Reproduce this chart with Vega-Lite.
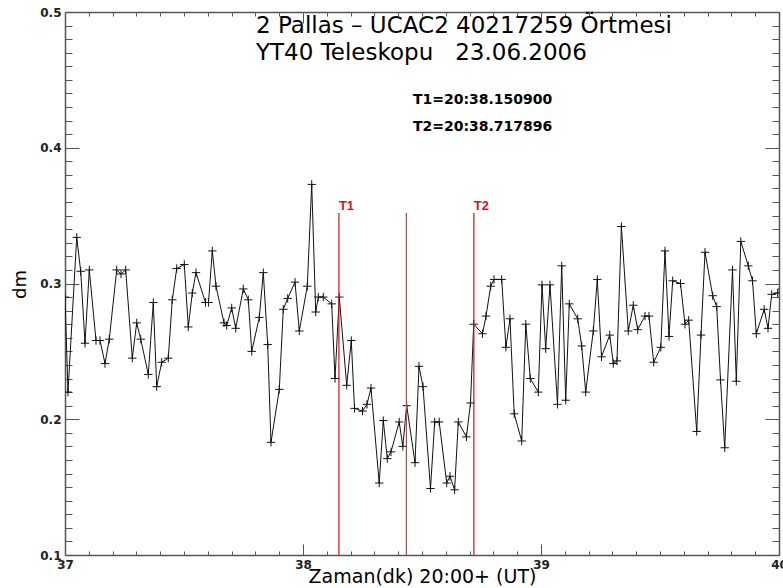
{
  "$schema": "https://vega.github.io/schema/vega-lite/v6.json",
  "width": 714,
  "height": 543,
  "autosize": {"type": "none"},
  "padding": {"left": 65, "top": 12, "right": 4, "bottom": 33},
  "background": "white",
  "title": {
    "text": ["2 Pallas – UCAC2 40217259 Örtmesi", "YT40 Teleskopu\u00a0\u00a0 23.06.2006"],
    "anchor": "start",
    "frame": "group",
    "orient": "top",
    "font": "DejaVu Sans",
    "fontSize": 23,
    "fontWeight": "normal",
    "color": "#000000",
    "lineHeight": 27,
    "baseline": "alphabetic",
    "offset": 0,
    "dx": 191,
    "dy": 77
  },
  "config": {
    "view": {"stroke": null},
    "axis": {
      "grid": false,
      "labelFont": "DejaVu Sans",
      "labelFontWeight": "bold",
      "labelFontSize": 12,
      "labelColor": "#222222",
      "labelFlush": false,
      "domainColor": "#555555",
      "domainWidth": 1.5,
      "tickColor": "#555555",
      "tickWidth": 1,
      "titleFont": "DejaVu Sans",
      "titleFontWeight": "normal",
      "titleFontSize": 18,
      "titleColor": "#000000"
    }
  },
  "datasets": {
    "obs": [
      {"t": 37.0000, "dm": 0.290}, {"t": 37.0126, "dm": 0.220}, {"t": 37.0492, "dm": 0.334}, {"t": 37.0660, "dm": 0.309},
      {"t": 37.0840, "dm": 0.256}, {"t": 37.1021, "dm": 0.310}, {"t": 37.1303, "dm": 0.258}, {"t": 37.1471, "dm": 0.258},
      {"t": 37.1681, "dm": 0.241}, {"t": 37.1861, "dm": 0.259}, {"t": 37.2172, "dm": 0.310}, {"t": 37.2353, "dm": 0.307},
      {"t": 37.2550, "dm": 0.310}, {"t": 37.2828, "dm": 0.245}, {"t": 37.3013, "dm": 0.271}, {"t": 37.3181, "dm": 0.259},
      {"t": 37.3500, "dm": 0.233}, {"t": 37.3710, "dm": 0.286}, {"t": 37.3853, "dm": 0.224}, {"t": 37.4063, "dm": 0.242},
      {"t": 37.4340, "dm": 0.245}, {"t": 37.4508, "dm": 0.288}, {"t": 37.4693, "dm": 0.311}, {"t": 37.5013, "dm": 0.314},
      {"t": 37.5181, "dm": 0.268}, {"t": 37.5349, "dm": 0.293}, {"t": 37.5504, "dm": 0.308}, {"t": 37.5903, "dm": 0.286},
      {"t": 37.6029, "dm": 0.286}, {"t": 37.6189, "dm": 0.324}, {"t": 37.6345, "dm": 0.298}, {"t": 37.6681, "dm": 0.271},
      {"t": 37.6794, "dm": 0.269}, {"t": 37.7004, "dm": 0.282}, {"t": 37.7172, "dm": 0.267}, {"t": 37.7492, "dm": 0.296},
      {"t": 37.7702, "dm": 0.288}, {"t": 37.7845, "dm": 0.250}, {"t": 37.8164, "dm": 0.275}, {"t": 37.8332, "dm": 0.308},
      {"t": 37.8517, "dm": 0.255}, {"t": 37.8655, "dm": 0.183}, {"t": 37.9004, "dm": 0.222}, {"t": 37.9172, "dm": 0.281},
      {"t": 37.9357, "dm": 0.289}, {"t": 37.9664, "dm": 0.301}, {"t": 37.9845, "dm": 0.265}, {"t": 38.0181, "dm": 0.298},
      {"t": 38.0366, "dm": 0.373}, {"t": 38.0534, "dm": 0.279}, {"t": 38.0643, "dm": 0.290}, {"t": 38.0853, "dm": 0.290},
      {"t": 38.1206, "dm": 0.285}, {"t": 38.1345, "dm": 0.230}, {"t": 38.1525, "dm": 0.290}, {"t": 38.1836, "dm": 0.225},
      {"t": 38.2029, "dm": 0.258}, {"t": 38.2164, "dm": 0.208}, {"t": 38.2500, "dm": 0.206}, {"t": 38.2689, "dm": 0.211},
      {"t": 38.2857, "dm": 0.223}, {"t": 38.3202, "dm": 0.153}, {"t": 38.3374, "dm": 0.199}, {"t": 38.3542, "dm": 0.171},
      {"t": 38.3697, "dm": 0.176}, {"t": 38.4042, "dm": 0.198}, {"t": 38.4193, "dm": 0.180}, {"t": 38.4357, "dm": 0.210},
      {"t": 38.4706, "dm": 0.168}, {"t": 38.4874, "dm": 0.239}, {"t": 38.5042, "dm": 0.224}, {"t": 38.5357, "dm": 0.149},
      {"t": 38.5534, "dm": 0.198}, {"t": 38.5723, "dm": 0.198}, {"t": 38.6038, "dm": 0.153}, {"t": 38.6176, "dm": 0.158},
      {"t": 38.6370, "dm": 0.148}, {"t": 38.6525, "dm": 0.198}, {"t": 38.6866, "dm": 0.187}, {"t": 38.7038, "dm": 0.212},
      {"t": 38.7172, "dm": 0.270}, {"t": 38.7542, "dm": 0.263}, {"t": 38.7689, "dm": 0.276}, {"t": 38.7887, "dm": 0.298},
      {"t": 38.8025, "dm": 0.303}, {"t": 38.8349, "dm": 0.303}, {"t": 38.8525, "dm": 0.253}, {"t": 38.8697, "dm": 0.274},
      {"t": 38.8874, "dm": 0.204}, {"t": 38.9189, "dm": 0.184}, {"t": 38.9361, "dm": 0.270}, {"t": 38.9550, "dm": 0.230},
      {"t": 38.9887, "dm": 0.220}, {"t": 39.0042, "dm": 0.299}, {"t": 39.0197, "dm": 0.252}, {"t": 39.0378, "dm": 0.299},
      {"t": 39.0693, "dm": 0.211}, {"t": 39.0870, "dm": 0.313}, {"t": 39.1038, "dm": 0.214}, {"t": 39.1189, "dm": 0.285},
      {"t": 39.1542, "dm": 0.274}, {"t": 39.1710, "dm": 0.254}, {"t": 39.1878, "dm": 0.220}, {"t": 39.2197, "dm": 0.265},
      {"t": 39.2366, "dm": 0.303}, {"t": 39.2542, "dm": 0.246}, {"t": 39.2887, "dm": 0.262}, {"t": 39.3038, "dm": 0.241},
      {"t": 39.3193, "dm": 0.243}, {"t": 39.3378, "dm": 0.342}, {"t": 39.3668, "dm": 0.265}, {"t": 39.3878, "dm": 0.284},
      {"t": 39.4063, "dm": 0.266}, {"t": 39.4370, "dm": 0.276}, {"t": 39.4538, "dm": 0.276}, {"t": 39.4735, "dm": 0.242},
      {"t": 39.5034, "dm": 0.253}, {"t": 39.5210, "dm": 0.324}, {"t": 39.5378, "dm": 0.261}, {"t": 39.5534, "dm": 0.302},
      {"t": 39.5861, "dm": 0.300}, {"t": 39.6050, "dm": 0.270}, {"t": 39.6206, "dm": 0.273}, {"t": 39.6542, "dm": 0.191},
      {"t": 39.6723, "dm": 0.262}, {"t": 39.6891, "dm": 0.323}, {"t": 39.7214, "dm": 0.291}, {"t": 39.7382, "dm": 0.283},
      {"t": 39.7542, "dm": 0.229}, {"t": 39.7718, "dm": 0.179}, {"t": 39.8046, "dm": 0.310}, {"t": 39.8206, "dm": 0.228},
      {"t": 39.8395, "dm": 0.331}, {"t": 39.8710, "dm": 0.313}, {"t": 39.8887, "dm": 0.302}, {"t": 39.9046, "dm": 0.263},
      {"t": 39.9378, "dm": 0.281}, {"t": 39.9538, "dm": 0.267}, {"t": 39.9693, "dm": 0.292}, {"t": 39.9945, "dm": 0.293},
      {"t": 40.0126, "dm": 0.296}
    ],
    "times": [
      {"t": 38.150900, "kind": "T1", "label": "T1"},
      {"t": 38.434398, "kind": "mid", "label": ""},
      {"t": 38.717896, "kind": "T2", "label": "T2"}
    ]
  },
  "layer": [
    {
      "data": {"name": "obs"},
      "mark": {"type": "line", "color": "#111111", "strokeWidth": 1, "clip": true},
      "encoding": {
        "x": {
          "field": "t", "type": "quantitative",
          "scale": {"domain": [37, 40], "nice": false, "zero": false},
          "axis": {
            "orient": "bottom", "values": [37, 38, 39, 40], "format": "d",
            "tickSize": -11, "labelPadding": 15, "labelFontSize": 12, "labelBaseline": "top",
            "labelFlush": false,
            "title": "Zaman(dk) 20:00+  (UT)", "titleFontSize": 19, "titleY": 27, "titleBaseline": "alphabetic"
          }
        },
        "y": {
          "field": "dm", "type": "quantitative",
          "scale": {"domain": [0.1, 0.5], "nice": false, "zero": false},
          "axis": {
            "orient": "left", "values": [0.1, 0.2, 0.3, 0.4, 0.5], "format": ".1f",
            "tickSize": -14, "labelPadding": 18, "labelFontSize": 12, "labelFlush": false,
            "title": "dm", "titleX": -45, "titleY": 272, "titleAngle": -90,
            "titleAlign": "center", "titleBaseline": "middle"
          }
        }
      }
    },
    {
      "data": {"name": "obs"},
      "mark": {
        "type": "point", "shape": "M-1,0L1,0M0,-1L0,1", "size": 70,
        "filled": false, "stroke": "#111111", "strokeWidth": 1, "opacity": 1, "clip": true
      },
      "encoding": {
        "x": {
          "field": "t", "type": "quantitative",
          "axis": {
            "orient": "bottom", "domain": false, "labels": false, "title": null, "tickSize": -4,
            "values": [37.1, 37.2, 37.3, 37.4, 37.5, 37.6, 37.7, 37.8, 37.9,
                       38.1, 38.2, 38.3, 38.4, 38.5, 38.6, 38.7, 38.8, 38.9,
                       39.1, 39.2, 39.3, 39.4, 39.5, 39.6, 39.7, 39.8, 39.9]
          }
        },
        "y": {
          "field": "dm", "type": "quantitative",
          "axis": {
            "orient": "left", "domain": false, "labels": false, "title": null, "tickSize": -7,
            "values": [0.11, 0.12, 0.13, 0.14, 0.15, 0.16, 0.17, 0.18, 0.19,
                       0.21, 0.22, 0.23, 0.24, 0.25, 0.26, 0.27, 0.28, 0.29,
                       0.31, 0.32, 0.33, 0.34, 0.35, 0.36, 0.37, 0.38, 0.39,
                       0.41, 0.42, 0.43, 0.44, 0.45, 0.46, 0.47, 0.48, 0.49]
          }
        }
      }
    },
    {
      "data": {"name": "times"},
      "mark": {"type": "rule", "strokeWidth": 1.2},
      "encoding": {
        "x": {
          "field": "t", "type": "quantitative",
          "axis": {"orient": "top", "values": [37, 38, 39, 40], "labels": false, "title": null, "tickSize": -11}
        },
        "y": {
          "datum": 0.352, "type": "quantitative",
          "axis": {"orient": "right", "values": [0.1, 0.2, 0.3, 0.4, 0.5], "labels": false, "title": null, "tickSize": -14}
        },
        "y2": {"datum": 0.1},
        "color": {
          "field": "kind", "type": "nominal",
          "scale": {"domain": ["T1", "mid", "T2"], "range": ["#cc1111", "#9a5656", "#cc1111"]},
          "legend": null
        }
      }
    },
    {
      "data": {"name": "times"},
      "transform": [{"filter": "datum.label != ''"}],
      "mark": {
        "type": "text", "align": "left", "baseline": "bottom", "dx": 0, "dy": 0,
        "font": "Liberation Sans", "fontWeight": "bold", "fontSize": 13, "color": "#dd1111"
      },
      "encoding": {
        "x": {
          "field": "t", "type": "quantitative",
          "axis": {
            "orient": "top", "domain": false, "labels": false, "title": null, "tickSize": -4,
            "values": [37.1, 37.2, 37.3, 37.4, 37.5, 37.6, 37.7, 37.8, 37.9,
                       38.1, 38.2, 38.3, 38.4, 38.5, 38.6, 38.7, 38.8, 38.9,
                       39.1, 39.2, 39.3, 39.4, 39.5, 39.6, 39.7, 39.8, 39.9]
          }
        },
        "y": {
          "datum": 0.352, "type": "quantitative",
          "axis": {
            "orient": "right", "domain": false, "labels": false, "title": null, "tickSize": -7,
            "values": [0.11, 0.12, 0.13, 0.14, 0.15, 0.16, 0.17, 0.18, 0.19,
                       0.21, 0.22, 0.23, 0.24, 0.25, 0.26, 0.27, 0.28, 0.29,
                       0.31, 0.32, 0.33, 0.34, 0.35, 0.36, 0.37, 0.38, 0.39,
                       0.41, 0.42, 0.43, 0.44, 0.45, 0.46, 0.47, 0.48, 0.49]
          }
        },
        "text": {"field": "label"}
      }
    },
    {
      "data": {"values": [{}]},
      "mark": {
        "type": "text", "align": "left", "baseline": "middle", "lineHeight": 27,
        "font": "DejaVu Sans", "fontWeight": "bold", "fontSize": 14, "color": "#000000",
        "text": ["T1=20:38.150900", "T2=20:38.717896"]
      },
      "encoding": {
        "x": {"datum": 38.462, "type": "quantitative", "axis": null},
        "y": {"datum": 0.435, "type": "quantitative", "axis": null}
      }
    }
  ],
  "resolve": {"axis": {"x": "independent", "y": "independent"}}
}
